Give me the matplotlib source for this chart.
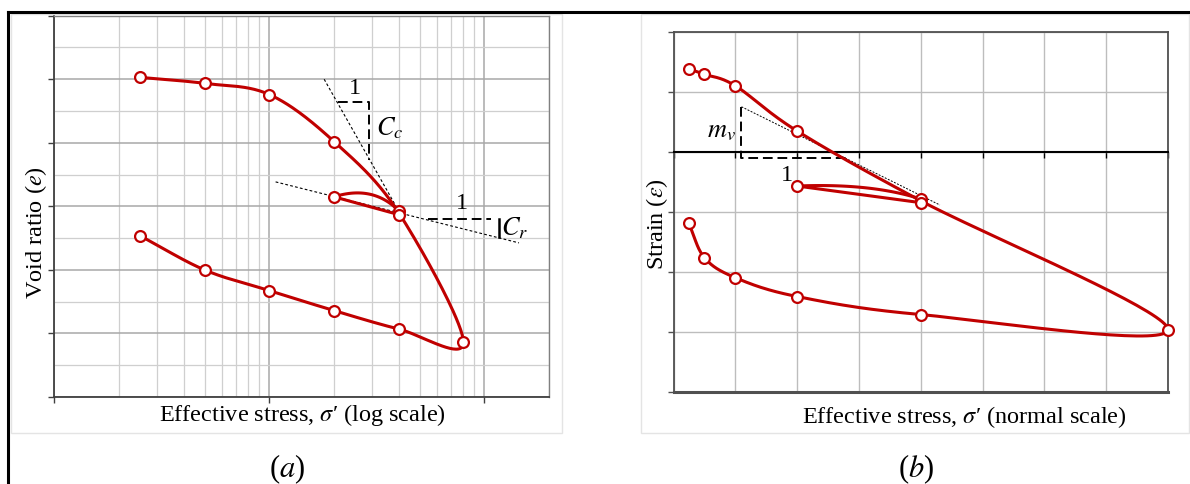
import numpy as np
import matplotlib.pyplot as plt
from matplotlib.lines import Line2D
from matplotlib.patches import Rectangle
from matplotlib.ticker import FixedLocator, MultipleLocator, NullFormatter

plt.rcParams['font.family'] = ['Liberation Serif', 'DejaVu Serif']
plt.rcParams['mathtext.fontset'] = 'stix'

RED = '#c00000'
W, H = 1190, 484

# ---- panel (a): e - log(sigma') ----
stress_a = [2.5, 5, 10, 20, 40, 80]
load_e = [10.06, 9.87, 9.52, 8.04, 5.80, 1.72]
unload_stress_a = [80, 40, 20, 10, 5, 2.5]
unload_e = [1.72, 2.14, 2.72, 3.35, 4.00, 5.08]
loop_stress_a = [40, 20, 40]
loop_e = [5.86, 6.30, 5.74]
cc_line = ([18, 40], [10.0, 5.85])
cc_tri = ([20.9, 29.2, 29.2], [9.27, 9.27, 7.46])
cr_line = ([10.7, 145], [6.77, 4.85])
cr_tri_h = ([54.9, 108], [5.59, 5.59])
cr_tri_v = ([117.6, 117.6], [5.59, 5.05])

# ---- panel (b): strain - sigma' ----
stress_b = [0.25, 0.5, 1, 2, 4, 8]
load_eps = [1.38, 1.29, 1.10, 0.346, -0.816, -2.96]
unload_stress_b = [8, 4, 2, 1, 0.5, 0.25]
unload_eps = [-2.96, -2.71, -2.41, -2.096, -1.763, -1.19]
loop_stress_b = [4, 2, 4]
loop_eps = [-0.786, -0.57, -0.847]
mv_line = ([1.10, 4.31], [0.75, -0.886])
mv_tri = ([1.10, 1.10, 2.80], [0.75, -0.11, -0.11])

FS = 17.5


def catmull(xs, ys, pre=None, post=None, n=40):
    P = np.column_stack([xs, ys]).astype(float)
    first = 2 * P[0] - P[1] if pre is None else np.asarray(pre, float)
    last = 2 * P[-1] - P[-2] if post is None else np.asarray(post, float)
    Q = np.vstack([first, P, last])
    t = np.linspace(0, 1, n)[:, None]
    h00 = 2 * t**3 - 3 * t**2 + 1
    h10 = t**3 - 2 * t**2 + t
    h01 = -2 * t**3 + 3 * t**2
    h11 = t**3 - t**2
    out = []
    for i in range(1, len(Q) - 2):
        m1 = (Q[i + 1] - Q[i - 1]) / 2
        m2 = (Q[i + 2] - Q[i]) / 2
        out.append(h00 * Q[i] + h10 * m1 + h01 * Q[i + 1] + h11 * m2)
    return np.vstack(out)


def arc(p0, p1, bulge, n=40):
    # quadratic bezier bowing upward
    c = p0 + 0.4 * (p1 - p0) + np.array([0, bulge])
    t = np.linspace(0, 1, n)[:, None]
    return (1 - t)**2 * p0 + 2 * (1 - t) * t * c + t**2 * p1


def draw_path(ax, fx, inv, sx, sy, ux, uy, lx, ly, bulge):
    # fx maps data x to a roughly isotropic space, inv maps back
    L = np.column_stack([fx(np.array(sx)), sy])
    U = np.column_stack([fx(np.array(ux)), uy])
    P = np.column_stack([fx(np.array(lx)), ly])
    c1 = catmull(L[:, 0], L[:, 1], post=U[1])
    c2 = catmull(U[:, 0], U[:, 1], pre=L[-2])
    c3 = arc(P[0], P[1], bulge)
    for c in (c1, c2, c3):
        ax.plot(inv(c[:, 0]), c[:, 1], color=RED, lw=2.2, zorder=4,
                solid_capstyle='round', clip_on=False)
    ax.plot(lx[1:], ly[1:], color=RED, lw=2.2, zorder=4)
    mk = dict(ls='none', marker='o', ms=7.8, mfc='white', mec=RED, mew=1.6,
              zorder=5, clip_on=False)
    ax.plot(list(sx[:4]) + list(lx) + list(ux), list(sy[:4]) + list(ly) + list(uy), **mk)


fig = plt.figure(figsize=(W / 100, H / 100), dpi=100)

# outer border and panel frames
fig.add_artist(Line2D([8 / W, 1], [1 - 12 / H] * 2, color='black', lw=2.2))
fig.add_artist(Line2D([8 / W] * 2, [0, 1 - 12 / H], color='black', lw=2.2))
fig.add_artist(Rectangle((11 / W, 1 - 433 / H), 551 / W, 419 / H, fill=False,
                         ec='#e4e4e4', lw=1))
fig.add_artist(Rectangle((641 / W, 1 - 433 / H), 548 / W, 419 / H, fill=False,
                         ec='#e4e4e4', lw=1))

# ---------------- (a) ----------------
ax = fig.add_axes([54.3 / W, 1 - 397 / H, 494.7 / W, 381.3 / H])
ax.set_xscale('log')
ax.set_xlim(1, 200)
ax.set_ylim(0, 12)
ax.xaxis.set_major_locator(FixedLocator([1, 10, 100]))
ax.xaxis.set_minor_locator(FixedLocator([m * d for d in (1, 10, 100) for m in range(2, 10)]))
ax.yaxis.set_major_locator(MultipleLocator(2))
ax.yaxis.set_minor_locator(MultipleLocator(1))
ax.xaxis.set_major_formatter(NullFormatter())
ax.xaxis.set_minor_formatter(NullFormatter())
ax.yaxis.set_major_formatter(NullFormatter())
ax.tick_params(which='major', length=4, width=1, color='#404040')
ax.tick_params(which='minor', length=0)
ax.grid(which='major', color='#a8a8a8', lw=1.1)
ax.grid(which='minor', color='#cfcfcf', lw=0.9)
ax.set_axisbelow(True)
for s in ('left', 'bottom'):
    ax.spines[s].set_color('#404040')
    ax.spines[s].set_linewidth(1.3)
for s in ('top', 'right'):
    ax.spines[s].set_color('#808080')
    ax.spines[s].set_linewidth(1.0)

KA = 215 / 31.78
fa = lambda v: np.log10(v) * KA
ia = lambda v: 10 ** (v / KA)
draw_path(ax, fa, ia, stress_a, load_e, unload_stress_a, unload_e,
          loop_stress_a, loop_e, 0.65)

ax.plot(*cc_line, color='black', lw=0.8, ls=(0, (2.5, 2)), zorder=3)
ax.plot(*cr_line, color='black', lw=0.8, ls=(0, (2.5, 2)), zorder=3)
dash = dict(color='black', lw=1.4, ls=(0, (5, 2.5)), zorder=3)
ax.plot(*cc_tri, **dash)
ax.plot(*cr_tri_h, **dash)
ax.plot(*cr_tri_v, color='black', lw=1.8, zorder=3)
ax.text(25.0, 9.71, '1', fontsize=FS, ha='center', va='center')
ax.text(36.4, 8.45, '$C_c$', fontsize=19, ha='center', va='center')
ax.text(78.5, 6.09, '1', fontsize=FS, ha='center', va='center')
ax.text(139, 5.31, '$C_r$', fontsize=19, ha='center', va='center')

fig.text(36.4 / W, 1 - 233 / H, 'Void ratio ($e$)', fontsize=FS, rotation=90,
         ha='center', va='center')
fig.text(302 / W, 1 - 415 / H, 'Effective stress, $\\sigma$\u2032 (log scale)',
         fontsize=FS, ha='center', va='center')
fig.text(287 / W, 1 - 469 / H, '($a$)', fontsize=22, ha='center', va='center')

# ---------------- (b) ----------------
bx = fig.add_axes([673.5 / W, 1 - 392 / H, 494.5 / W, 360.3 / H])
bx.set_xlim(0, 8)
bx.set_ylim(-4, 2)
bx.xaxis.set_major_locator(MultipleLocator(1))
bx.yaxis.set_major_locator(MultipleLocator(1))
bx.xaxis.set_major_formatter(NullFormatter())
bx.yaxis.set_major_formatter(NullFormatter())
bx.grid(color='#bdbdbd', lw=1.0)
bx.set_axisbelow(True)
bx.spines['bottom'].set_position(('data', 0))
bx.spines['bottom'].set_color('black')
bx.spines['bottom'].set_linewidth(1.5)
for s in ('left', 'top', 'right'):
    bx.spines[s].set_color('#505050')
    bx.spines[s].set_linewidth(1.3)
bx.axhline(-4, color='#505050', lw=2.2, clip_on=False, zorder=2)
bx.tick_params(axis='x', length=4, width=1, color='black')
bx.tick_params(axis='y', length=4, width=1, color='#505050')

KB = 61.8 / 60.05
fb = lambda v: v * KB
ib = lambda v: v / KB
draw_path(bx, fb, ib, stress_b, load_eps, unload_stress_b, unload_eps,
          loop_stress_b, loop_eps, 0.18)

bx.plot(*mv_line, color='black', lw=0.7, ls=(0, (2, 1.5)), zorder=3)
bx.plot(*mv_tri, **dash)
bx.text(0.78, 0.335, '$m_v$', fontsize=19, ha='center', va='center')
bx.text(1.83, -0.40, '1', fontsize=FS, ha='center', va='center')

fig.text(657 / W, 1 - 224 / H, 'Strain ($\\varepsilon$)', fontsize=FS, rotation=90,
         ha='center', va='center')
fig.text(964 / W, 1 - 417 / H, 'Effective stress, $\\sigma$\u2032 (normal scale)',
         fontsize=FS, ha='center', va='center')
fig.text(916 / W, 1 - 469 / H, '($b$)', fontsize=22, ha='center', va='center')

fig.savefig('out.png', dpi=100)
